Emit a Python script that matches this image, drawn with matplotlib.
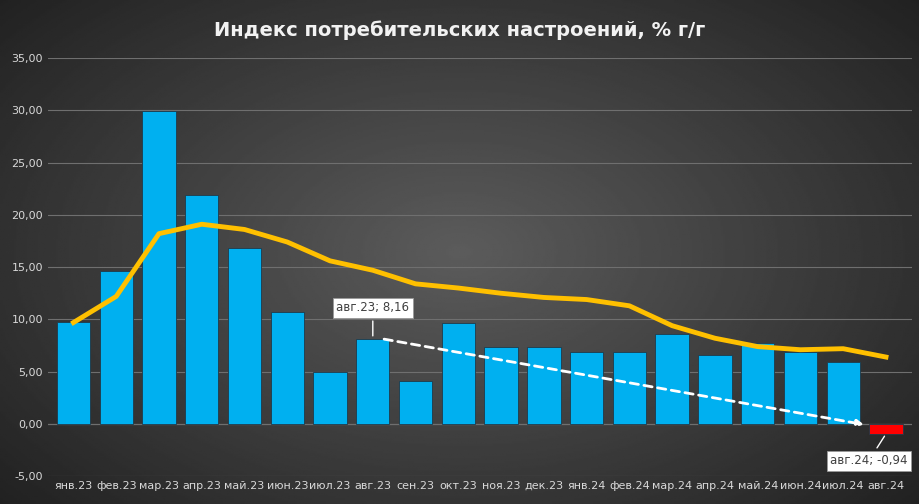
import matplotlib.pyplot as plt
import numpy as np

months = ["янв.23", "фев.23", "мар.23", "апр.23", "май.23", "июн.23", "июл.23", "авг.23",
          "сен.23", "окт.23", "ноя.23", "дек.23", "янв.24", "фев.24", "мар.24", "апр.24",
          "май.24", "июн.24", "июл.24", "авг.24"]
index_vals = [9.8, 14.6, 29.9, 21.9, 16.8, 10.7, 5.0, 8.16, 4.1, 9.7, 7.4, 7.4, 6.9, 6.9,
              8.6, 6.6, 7.7, 6.9, 5.9, -0.94]
trend_vals = [9.7, 12.2, 18.2, 19.1, 18.6, 17.4, 15.6, 14.7, 13.4, 13.0, 12.5, 12.1, 11.9,
              11.3, 9.4, 8.2, 7.4, 7.1, 7.2, 6.4]

fig = plt.figure(figsize=(9.19, 5.04), dpi=100)
# radial gradient background
bg = fig.add_axes([0, 0, 1, 1])
yy, xx = np.mgrid[-1:1:300j, -1:1:500j]
r = np.sqrt(xx ** 2 + (yy * 0.9) ** 2)
bg.imshow(np.clip(0.36 - 0.17 * r, 0.12, 0.4), cmap="gray", vmin=0, vmax=1, aspect="auto")
bg.axis("off")

ax = fig.add_axes([0.052, 0.055, 0.94, 0.83])
ax.patch.set_alpha(0)
x = np.arange(len(months))
colors = ["#00b0f0"] * (len(months) - 1) + ["#ff0000"]
ax.bar(x, index_vals, width=0.78, color=colors, edgecolor="#1f3a4a", lw=0.6, zorder=2)
ax.plot(x, trend_vals, color="#ffc000", lw=3.5, zorder=3)
ax.set_ylim(-5, 35)
ax.set_xlim(-0.6, len(months) - 0.4)
ax.set_yticks(np.arange(-5, 36, 5))
ax.set_yticklabels([f"{v:.2f}".replace(".", ",") for v in np.arange(-5, 36, 5)])
ax.set_xticks(x)
ax.set_xticklabels(months)
ax.tick_params(colors="#d9d9d9", labelsize=8, length=0)
ax.grid(axis="y", color="#6f6f6f", lw=0.8, zorder=0)
for s in ax.spines.values():
    s.set_visible(False)
ax.axhline(0, color="#8a8a8a", lw=0.8, zorder=1)

ax.annotate("", xy=(19 - 0.45, -0.1), xytext=(7.2, index_vals[7]),
            arrowprops=dict(arrowstyle="-|>", color="white", lw=2, ls=(0, (3, 2))), zorder=4)

box = dict(boxstyle="square,pad=0.3", fc="white", ec="#999999", lw=0.6)
ax.annotate("авг.23; 8,16", xy=(7, index_vals[7]), xytext=(7, 11.1), ha="center", va="center",
            fontsize=8.5, color="#404040", bbox=box,
            arrowprops=dict(arrowstyle="-", color="white", lw=1), zorder=5)
ax.annotate("авг.24; -0,94", xy=(19, -0.94), xytext=(18.6, -3.5), ha="center", va="center",
            fontsize=8.5, color="#404040", bbox=box,
            arrowprops=dict(arrowstyle="-", color="white", lw=1), zorder=5)

fig.text(0.5, 0.94, "Индекс потребительских настроений, % г/г", ha="center", va="center",
         color="#f2f2f2", fontsize=14, fontweight="bold")
fig.savefig("out.png", dpi=100)
